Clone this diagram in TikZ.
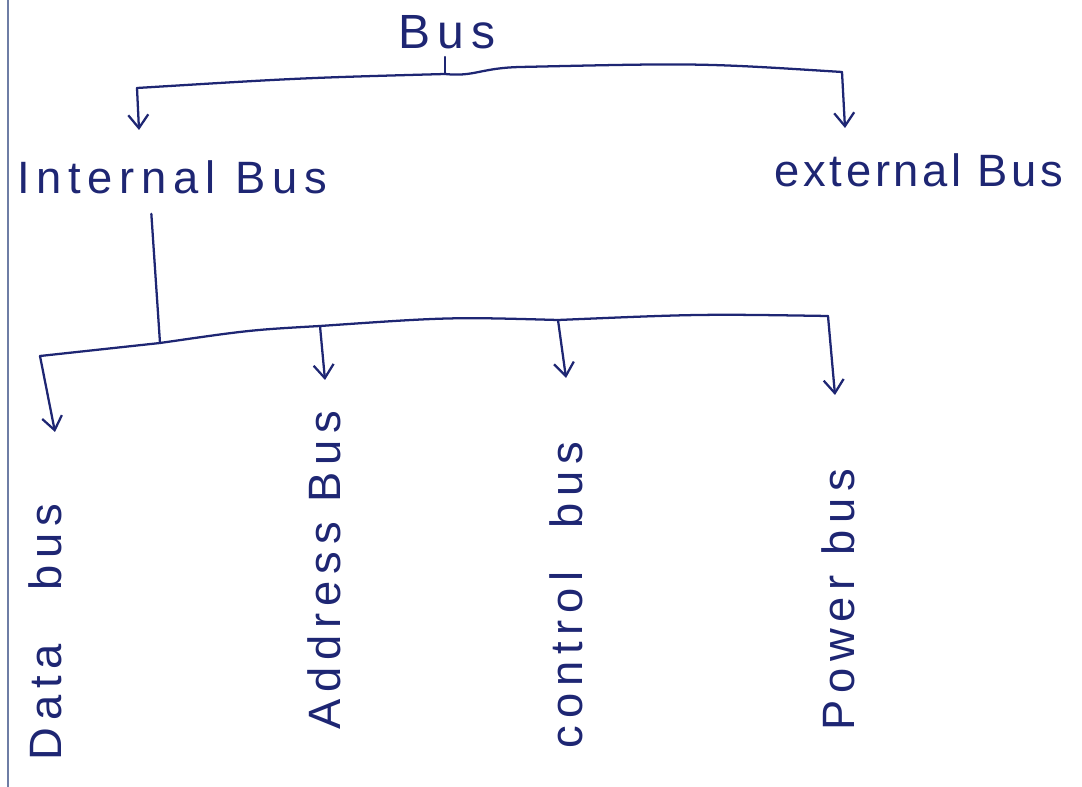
\documentclass[tikz,border=0pt]{standalone}
\usepackage{fontspec}
\newfontfamily\hand[LetterSpace=15]{Liberation Sans}
\newfontfamily\handb[LetterSpace=8]{Liberation Sans}
\usetikzlibrary{arrows.meta}
\definecolor{ink}{RGB}{30,38,115}
\definecolor{marginc}{RGB}{110,125,165}
\begin{document}
\begin{tikzpicture}[x=0.75pt,y=-0.75pt,
  inkline/.style={draw=ink,line width=1.7pt,line cap=round,line join=round},
  arr/.style={inkline,-{Straight Barb[length=10pt,width=15pt,line width=1.7pt]}},
  lbl/.style={text=ink,font=\hand\fontsize{34}{36}\selectfont,inner sep=0pt},
  vlbl/.style={lbl,rotate=90}]
\useasboundingbox (0,0) rectangle (1082,787);
\draw[marginc,line width=1.4pt] (8,0) -- (8,787);
% labels
\node[lbl,font=\hand\fontsize{36}{38}\selectfont] (bus) at (447,32) {Bus};
\node[lbl] (internal) at (172,177) {Internal Bus};
\node[lbl,font=\handb\fontsize{34}{36}\selectfont] (external) at (919,170) {external Bus};
\node[vlbl] (data) at (45,632) {Data\hspace{40pt}bus};
\node[vlbl] (address) at (324,570) {Address Bus};
\node[vlbl] (control) at (566,595) {control\hspace{32pt}bus};
\node[vlbl] (power) at (838,600) {Power bus};
% junctions
\coordinate (j1) at (445,74);
\coordinate (lb) at (137,88);
\coordinate (rb) at (842,72);
\coordinate (it) at (139,130);
\coordinate (et) at (845,128);
\coordinate (jb) at (160,343);
\coordinate (dl) at (40,356);
\coordinate (ab) at (320,326);
\coordinate (cb) at (558,320);
\coordinate (pb) at (828,316);
\coordinate (dt) at (55,432);
\coordinate (at) at (325,380);
\coordinate (ct) at (566,378);
\coordinate (pt) at (835,395);
% top tree
\draw[inkline,shorten <=6pt] (bus.south -| j1) -- (j1);
\draw[inkline] (lb) .. controls (300,78) .. (j1) .. controls (475,77) and (480,68) .. (520,67) .. controls (700,63) .. (rb);
\draw[arr] (lb) -- (it);
\draw[arr] (rb) -- (et);
% internal branches
\draw[inkline,shorten <=15pt] ([xshift=-16.5pt]internal.south) -- (jb);
\draw[inkline] (dl) -- (jb) .. controls (250,330) .. (ab) .. controls (450,317) .. (cb) .. controls (700,314) .. (pb);
\draw[arr] (dl) -- (dt);
\draw[arr] (ab) -- (at);
\draw[arr] (cb) -- (ct);
\draw[arr] (pb) -- (pt);
\end{tikzpicture}
\end{document}
